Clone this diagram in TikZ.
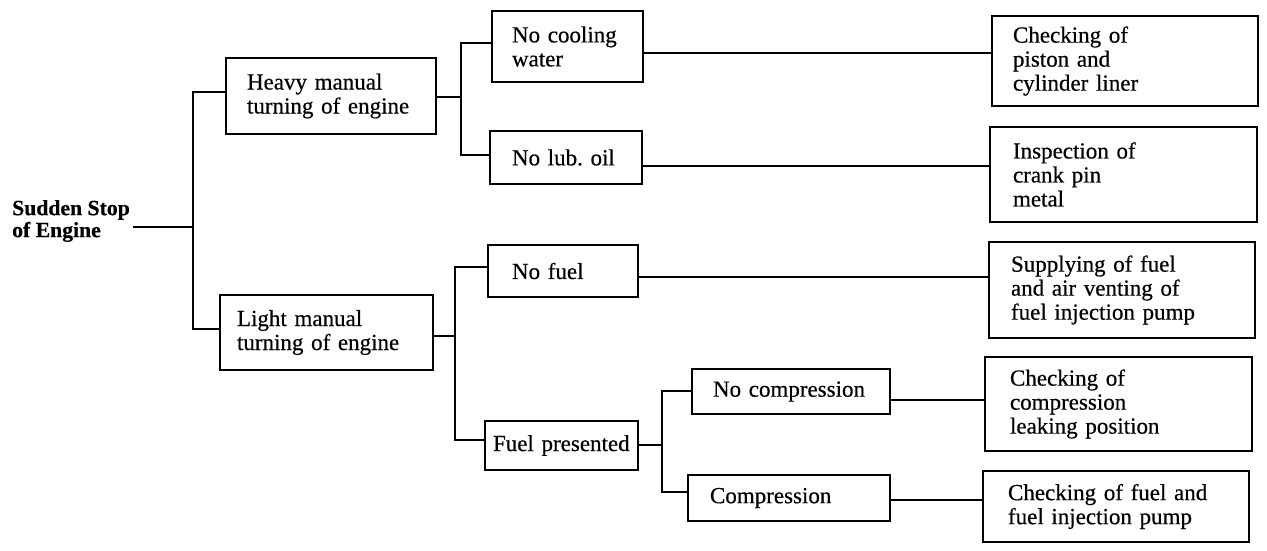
\documentclass[tikz,border=0pt]{standalone}
\usepackage{fontspec}
\setmainfont{Liberation Serif}[FakeBold=0.5]
\begin{document}
\frenchspacing
\begin{tikzpicture}[x=1pt,y=-1pt,
  every node/.style={font=\fontsize{23}{24}\selectfont},
  box/.style={draw, line width=1.6pt, align=left, inner ysep=0pt},
  link/.style={line width=1.6pt}]
\useasboundingbox (0,0) rectangle (1267,550);
% root text
\node[anchor=west, inner sep=0pt, align=left, font=\fontsize{21.7}{22}\selectfont\bfseries] (ss) at (12,221) {Sudden Stop\\of Engine};
% level 1
\node[box, minimum width=210pt, minimum height=76pt, inner xsep=21pt, text width=168pt] (heavy) at (331,96) {Heavy manual\\turning of engine};
\node[box, minimum width=213pt, minimum height=75pt, inner xsep=17pt, text width=179pt] (light) at (326.5,332.5) {Light manual\\turning of engine};
% level 2
\node[box, minimum width=151pt, minimum height=71pt, inner xsep=20pt, text width=111pt] (nocool) at (567.5,46.5) {No cooling\\water};
\node[box, minimum width=152pt, minimum height=53pt, inner xsep=22pt, text width=108pt] (nolub) at (566,157.5) {No lub. oil};
\node[box, minimum width=150pt, minimum height=52pt, inner xsep=24pt, text width=102pt] (nofuel) at (563,271) {No fuel};
\node[box, minimum width=153pt, minimum height=49pt, inner xsep=8pt, text width=137pt] (fp) at (561.5,445.5) {Fuel presented};
% level 3
\node[box, minimum width=198pt, minimum height=45pt, inner xsep=21pt, text width=156pt] (nc) at (791,391.5) {No compression};
\node[box, minimum width=202pt, minimum height=46pt, inner xsep=22pt, text width=158pt] (co) at (789,498) {Compression};
% actions
\node[box, minimum width=266pt, minimum height=90pt, inner xsep=21pt, text width=224pt] (cp) at (1125,61) {Checking of\\piston and\\cylinder liner};
\node[box, minimum width=267pt, minimum height=95pt, inner xsep=23pt, text width=221pt] (ic) at (1123.5,174.5) {Inspection of\\crank pin\\metal};
\node[box, minimum width=266pt, minimum height=96pt, inner xsep=22pt, text width=222pt] (sf) at (1122,290) {Supplying of fuel\\and air venting of\\fuel injection pump};
\node[box, minimum width=267pt, minimum height=94pt, inner xsep=25pt, text width=217pt] (cl) at (1118.5,404) {Checking of\\compression\\leaking position};
\node[box, minimum width=266pt, minimum height=71pt, inner xsep=25pt, text width=216pt] (cf) at (1116,506.5) {Checking of fuel and\\fuel injection pump};
% junction coordinates
\coordinate (j0) at (193,227);
\coordinate (t1) at (193,92);
\coordinate (t2) at (193,329);
\coordinate (h0) at (461,97);
\coordinate (h1) at (461,43);
\coordinate (h2) at (461,155);
\coordinate (l0) at (455,336);
\coordinate (l1) at (455,267);
\coordinate (l2) at (455,440);
\coordinate (f0) at (662,445);
\coordinate (f1) at (662,391);
\coordinate (f2) at (662,492);
\coordinate (y1) at (0,53);
\coordinate (y2) at (0,166);
\coordinate (y3) at (0,277);
\coordinate (y4) at (0,400);
\coordinate (y5) at (0,500);
% connectors
\draw[link] ([xshift=3pt]ss.east |- j0) -- (j0);
\draw[link] (heavy.west |- t1) -- (t1) -- (t2) -- (light.west |- t2);
\draw[link] (heavy.east |- h0) -- (h0);
\draw[link] (nocool.west |- h1) -- (h1) -- (h2) -- (nolub.west |- h2);
\draw[link] (light.east |- l0) -- (l0);
\draw[link] (nofuel.west |- l1) -- (l1) -- (l2) -- (fp.west |- l2);
\draw[link] (fp.east |- f0) -- (f0);
\draw[link] (nc.west |- f1) -- (f1) -- (f2) -- (co.west |- f2);
\draw[link] (nocool.east |- y1) -- (cp.west |- y1);
\draw[link] (nolub.east |- y2) -- (ic.west |- y2);
\draw[link] (nofuel.east |- y3) -- (sf.west |- y3);
\draw[link] (nc.east |- y4) -- (cl.west |- y4);
\draw[link] (co.east |- y5) -- (cf.west |- y5);
\end{tikzpicture}
\end{document}
